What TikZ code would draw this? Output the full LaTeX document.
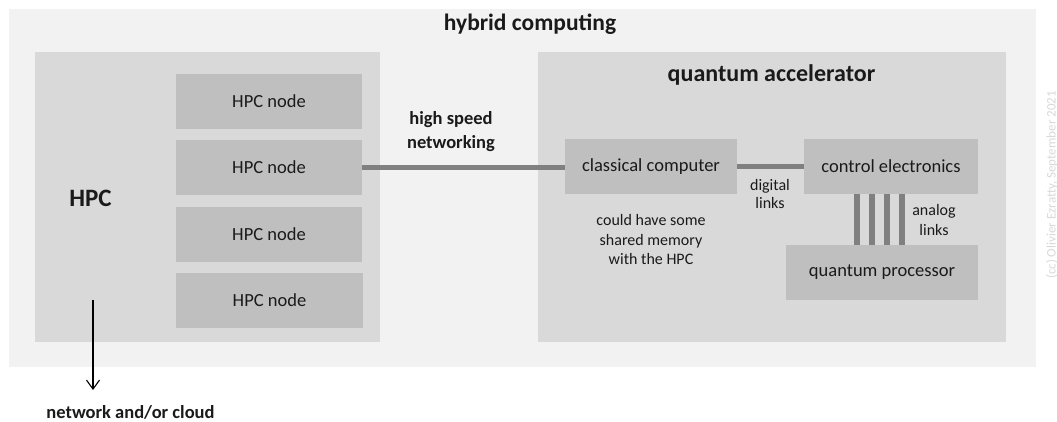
\documentclass[tikz,border=0pt]{standalone}
\usepackage{fontspec}
\setmainfont{Carlito}
\usetikzlibrary{arrows.meta}
\definecolor{bgout}{HTML}{F2F2F2}
\definecolor{bgbox}{HTML}{D9D9D9}
\definecolor{nodebox}{HTML}{BFBFBF}
\definecolor{linkgray}{HTML}{808080}
\definecolor{txt}{HTML}{1A1A1A}
\tikzset{
  area/.style={fill=#1, draw=none, inner sep=0pt, outer sep=0pt},
  blk/.style={fill=nodebox, draw=none, inner sep=0pt, outer sep=0pt, text=txt,
    font=\fontsize{18.5}{22}\selectfont, align=center},
  lbl/.style={text=txt, inner sep=0pt, align=center},
  link/.style={draw=linkgray, line width=5pt},
  bar/.style={draw=linkgray, line width=6pt},
}
\begin{document}
\begin{tikzpicture}[x=1pt,y=-1pt]
\useasboundingbox[fill=white] (0,0) rectangle (1057,421);
% containers
\node[area=bgout, minimum width=1027pt, minimum height=358pt] (bg) at (522.5,188) {};
\node[area=bgbox, minimum width=345pt, minimum height=290pt] (hpc) at (207.5,197) {};
\node[area=bgbox, minimum width=468pt, minimum height=290pt] (qa) at (772,197) {};
% titles
\node[lbl, font=\bfseries\fontsize{23.5}{28}\selectfont] (title) at (530,24) {hybrid computing};
\node[lbl, font=\bfseries\fontsize{25}{30}\selectfont] (hpclbl) at (90.5,198) {HPC};
\node[lbl, font=\bfseries\fontsize{24}{29}\selectfont] (qalbl) at (771.5,75) {quantum accelerator};
% HPC nodes
\node[blk, minimum width=186pt, minimum height=55pt] (n1) at (269,101.5) {HPC node};
\node[blk, minimum width=186pt, minimum height=55pt] (n2) at (269,167) {HPC node};
\node[blk, minimum width=186pt, minimum height=55pt] (n3) at (269,234.5) {HPC node};
\node[blk, minimum width=187pt, minimum height=55pt] (n4) at (269.5,300.5) {HPC node};
% quantum accelerator content
\node[blk, minimum width=172pt, minimum height=55pt] (cc) at (651,166.5) {classical computer};
\node[blk, minimum width=174pt, minimum height=55pt] (ce) at (891,166.5) {control electronics};
\node[blk, minimum width=192pt, minimum height=55pt] (qp) at (882,272.5) {quantum processor};
% links
\draw[link] (n2.east) -- (n2.east -| cc.west);
\draw[link] (cc.east) -- (cc.east -| ce.west);
\foreach \dx in {-34,-19,-4,11}{
  \draw[bar] ([xshift=\dx pt]ce.south) -- ([xshift=\dx pt]ce.south |- qp.north);
}
% labels
\node[lbl, font=\bfseries\fontsize{18.5}{24}\selectfont] (hsn) at (451,132) {high speed\\networking};
\node[lbl, font=\fontsize{16}{18.5}\selectfont] (dl) at (770,194) {digital\\links};
\node[lbl, font=\fontsize{16}{20}\selectfont] (al) at (934,220) {analog\\links};
\node[lbl, font=\fontsize{16}{19.5}\selectfont] (mem) at (651,239.5) {could have some\\shared memory\\with the HPC};
% external network
\coordinate (aS) at (93,300);
\node[lbl, font=\bfseries\fontsize{18.5}{22}\selectfont] (net) at (130.5,412) {network and/or cloud};
\coordinate (aE) at (93,390);
\draw[line width=1.1pt, -{Straight Barb[length=9pt,width=13pt]}] (aS) -- (aE);
% watermark
\node[lbl, rotate=90, text=black!15, font=\fontsize{13}{14}\selectfont] (wm) at (1052,185) {(cc) Olivier Ezratty, September 2021};
\end{tikzpicture}
\end{document}
